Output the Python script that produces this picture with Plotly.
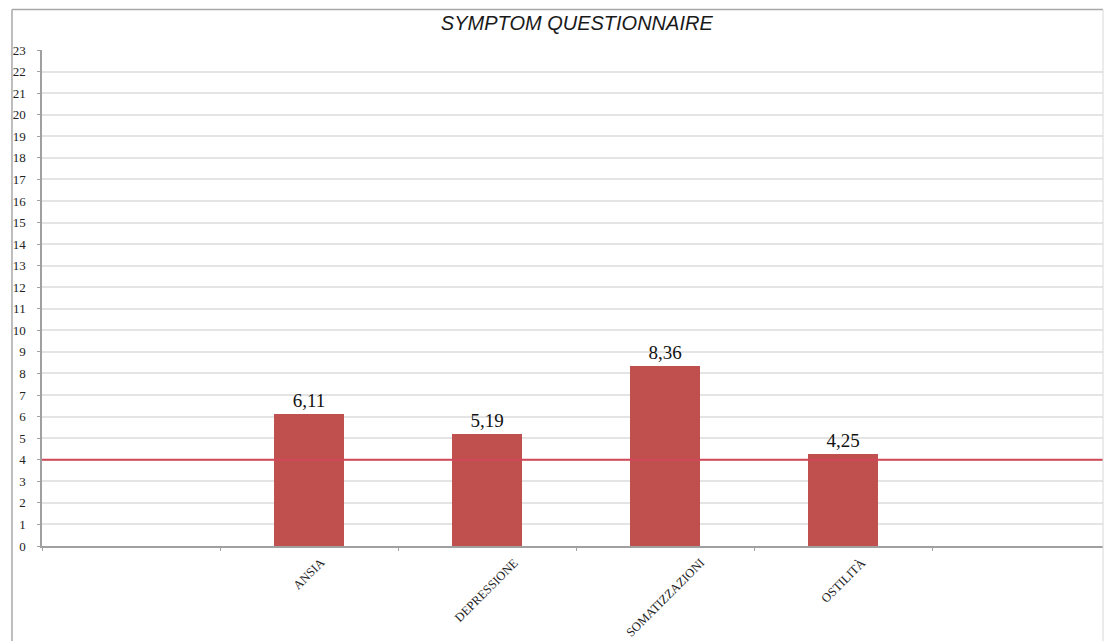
import plotly.graph_objects as go

# Scale scores per dimension
categories = ["ANSIA", "DEPRESSIONE", "SOMATIZZAZIONI", "OSTILITÀ"]
scores = [6.11, 5.19, 8.36, 4.25]
cutoff = 4
y_ticks = list(range(0, 24))

# category slots: one empty slot on each side of the four scales
positions = [1, 2, 3, 4]

fig = go.Figure()
fig.add_trace(go.Bar(
    x=positions,
    y=scores,
    width=0.39,
    marker=dict(color="#C0504D", line=dict(width=0)),
    texttemplate="%{y:.2f}",
    textposition="outside",
    textfont=dict(family="Liberation Serif", size=19, color="#111111"),
    cliponaxis=False,
    hoverinfo="skip",
))

fig.add_shape(type="line", xref="paper", x0=0, x1=1, yref="y", y0=cutoff, y1=cutoff,
              line=dict(color="#D04858", width=2), layer="above")

# category labels, rotated and centred under each slot
for pos, name in zip(positions, categories):
    fig.add_annotation(x=pos, y=0, xref="x", yref="y", text=name, textangle=-45,
                       xanchor="center", yanchor="top", yshift=-7, showarrow=False,
                       font=dict(family="Liberation Serif", size=12.5, color="#222222"))

# outer chart frame
frame = dict(color="#A8A8A8", width=1.5)
fig.add_shape(type="line", xref="paper", yref="paper", x0=-0.0283, x1=-0.0283, y0=-0.2, y1=1.0817, line=frame)
fig.add_shape(type="line", xref="paper", yref="paper", x0=-0.0283, x1=1.0, y0=1.0817, y1=1.0817, line=frame)
fig.add_shape(type="line", xref="paper", yref="paper", x0=1.0, x1=1.0, y0=-0.2, y1=1.0817,
              line=dict(color="#D8D8D8", width=1))

fig.update_layout(
    width=1105, height=641,
    margin=dict(l=42, r=2, t=50, b=95),
    paper_bgcolor="white", plot_bgcolor="white",
    separators=",.",
    showlegend=False,
    bargap=0,
    title=dict(text="<i>SYMPTOM QUESTIONNAIRE</i>", x=0.522, xanchor="center", y=0.964, yanchor="middle",
               font=dict(family="Liberation Sans", size=20, color="#1a1a1a")),
)

fig.update_xaxes(
    range=[-0.5, 5.46],
    tickmode="array", tickvals=positions, ticktext=categories,
    showticklabels=False,
    ticks="",
    showgrid=False, zeroline=False,
    showline=True, linecolor="#A0A0A0", linewidth=1.5,
    minor=dict(tick0=-0.5, dtick=1, ticks="outside", ticklen=3, tickcolor="#A0A0A0", showgrid=False),
)

fig.update_yaxes(
    range=[0, 23],
    tickmode="array", tickvals=y_ticks,
    tickfont=dict(family="Liberation Serif", size=13, color="#222222"),
    ticks="outside", ticklen=3, tickcolor="#A0A0A0",
    ticklabelstandoff=9,
    showgrid=True, gridcolor="#E4E4E4", gridwidth=1.5,
    zeroline=False,
    showline=True, linecolor="#A0A0A0", linewidth=1.5,
)

fig.write_html("out.html")
